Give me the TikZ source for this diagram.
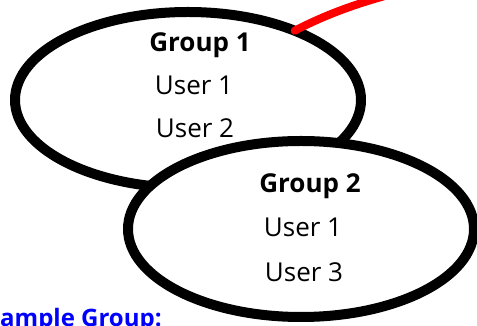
\documentclass[tikz,border=0pt]{standalone}
\usepackage{fontspec}
\setmainfont{Open Sans}
\usetikzlibrary{shapes.geometric,positioning}
\tikzset{
grp/.style={
  ellipse,
  draw=black,
  fill=white,
  line width=10pt,
  minimum width=346pt,
  minimum height=176pt,
  inner sep=0pt,
  outer sep=0pt
  },
ttl/.style={font=\fontsize{26}{30}\selectfont\bfseries, anchor=base, inner sep=0pt},
usr/.style={font=\fontsize{26}{30}\selectfont, anchor=base, inner sep=0pt},
lnk/.style={red, line width=8pt, line cap=round}
}

\begin{document}
\begin{tikzpicture}[x=1pt,y=1pt]
\useasboundingbox (0,0) rectangle (477,326);

% first group
\node[grp] (grp1) at (188,226) {};
\node[ttl] (grp1t) at (200,274) {Group 1};
\node[usr] (grp1a) at (194,231) {User 1};
\node[usr] (grp1b) at (195,188) {User 2};

% link to the group above
\coordinate (up) at (392,332);
\draw[lnk] (grp1.33) .. controls (325,311) and (355,322) .. (up);

% second group
\node[grp] (grp2) at (301,97) {};
\node[ttl] (grp2t) at (310,133) {Group 2};
\node[usr] (grp2a) at (303,89) {User 1};
\node[usr] (grp2b) at (304,44) {User 3};

\node[font=\fontsize{24}{28}\selectfont\bfseries, text=blue, anchor=base west, inner sep=0pt]
  (lbl) at (0,-1) {ample Group:};
\end{tikzpicture}
\end{document}
